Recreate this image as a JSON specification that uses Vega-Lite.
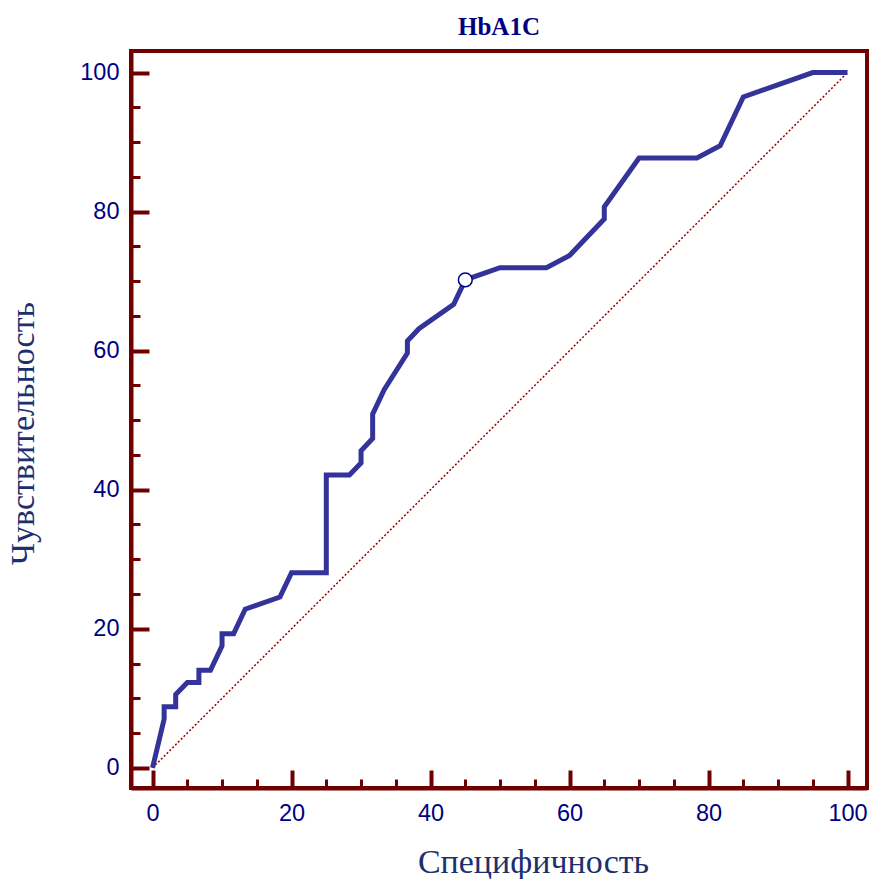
{
  "$schema": "https://vega.github.io/schema/vega-lite/v6.json",
  "width": 736,
  "height": 737,
  "autosize": {"type": "none"},
  "padding": {"left": 131, "top": 51, "right": 4, "bottom": 91},
  "background": "white",
  "title": {
    "text": "HbA1C",
    "font": "Liberation Serif",
    "fontSize": 25,
    "fontWeight": "bold",
    "color": "#000080",
    "anchor": "middle",
    "baseline": "alphabetic",
    "offset": -9
  },
  "config": {
    "view": {"stroke": "#700000", "strokeWidth": 4},
    "axis": {
      "grid": false,
      "domainColor": "#700000",
      "domainWidth": 4,
      "tickColor": "#700000",
      "labelFont": "Liberation Sans",
      "labelFontSize": 23.5,
      "labelColor": "#000080",
      "labelFlush": false,
      "labelOverlap": false,
      "titleFont": "Liberation Serif",
      "titleFontSize": 34,
      "titleFontWeight": "normal",
      "titleColor": "#1c2f6e"
    }
  },
  "datasets": {
    "diagonal": [
      {"specificity": 0, "sensitivity": 0},
      {"specificity": 100, "sensitivity": 100}
    ],
    "roc": [
      {"step": 0, "specificity": 0, "sensitivity": 0},
      {"step": 1, "specificity": 1.67, "sensitivity": 7.02},
      {"step": 2, "specificity": 1.67, "sensitivity": 8.77},
      {"step": 3, "specificity": 3.33, "sensitivity": 8.77},
      {"step": 4, "specificity": 3.33, "sensitivity": 10.53},
      {"step": 5, "specificity": 5, "sensitivity": 12.28},
      {"step": 6, "specificity": 6.67, "sensitivity": 12.28},
      {"step": 7, "specificity": 6.67, "sensitivity": 14.04},
      {"step": 8, "specificity": 8.33, "sensitivity": 14.04},
      {"step": 9, "specificity": 10, "sensitivity": 17.54},
      {"step": 10, "specificity": 10, "sensitivity": 19.3},
      {"step": 11, "specificity": 11.67, "sensitivity": 19.3},
      {"step": 12, "specificity": 13.33, "sensitivity": 22.81},
      {"step": 13, "specificity": 18.33, "sensitivity": 24.56},
      {"step": 14, "specificity": 20, "sensitivity": 28.07},
      {"step": 15, "specificity": 25, "sensitivity": 28.07},
      {"step": 16, "specificity": 25, "sensitivity": 42.11},
      {"step": 17, "specificity": 28.33, "sensitivity": 42.11},
      {"step": 18, "specificity": 30, "sensitivity": 43.86},
      {"step": 19, "specificity": 30, "sensitivity": 45.61},
      {"step": 20, "specificity": 31.67, "sensitivity": 47.37},
      {"step": 21, "specificity": 31.67, "sensitivity": 50.88},
      {"step": 22, "specificity": 33.33, "sensitivity": 54.39},
      {"step": 23, "specificity": 36.67, "sensitivity": 59.65},
      {"step": 24, "specificity": 36.67, "sensitivity": 61.4},
      {"step": 25, "specificity": 38.33, "sensitivity": 63.16},
      {"step": 26, "specificity": 43.33, "sensitivity": 66.67},
      {"step": 27, "specificity": 45, "sensitivity": 70.18},
      {"step": 28, "specificity": 50, "sensitivity": 71.93},
      {"step": 29, "specificity": 56.67, "sensitivity": 71.93},
      {"step": 30, "specificity": 60, "sensitivity": 73.68},
      {"step": 31, "specificity": 61.67, "sensitivity": 75.44},
      {"step": 32, "specificity": 65, "sensitivity": 78.95},
      {"step": 33, "specificity": 65, "sensitivity": 80.7},
      {"step": 34, "specificity": 70, "sensitivity": 87.72},
      {"step": 35, "specificity": 78.33, "sensitivity": 87.72},
      {"step": 36, "specificity": 81.67, "sensitivity": 89.47},
      {"step": 37, "specificity": 85, "sensitivity": 96.49},
      {"step": 38, "specificity": 95, "sensitivity": 100},
      {"step": 39, "specificity": 100, "sensitivity": 100}
    ],
    "cutoff": [
      {"specificity": 45, "sensitivity": 70.18}
    ]
  },
  "resolve": {"axis": {"x": "independent", "y": "independent"}},
  "layer": [
    {
      "data": {"name": "diagonal"},
      "mark": {"type": "line", "color": "#990000", "strokeWidth": 1.5, "strokeDash": [2, 2]},
      "encoding": {
        "x": {
          "field": "specificity",
          "type": "quantitative",
          "scale": {"domain": [-3.1, 102.8], "nice": false, "zero": false},
          "axis": {
            "orient": "bottom",
            "title": "Специфичность",
            "values": [0, 20, 40, 60, 80, 100],
            "tickSize": -18,
            "tickWidth": 4,
            "labelPadding": 31,
            "titleX": 402,
            "titleY": 84,
            "titleBaseline": "alphabetic",
            "titleAlign": "center"
          }
        },
        "y": {
          "field": "sensitivity",
          "type": "quantitative",
          "scale": {"domain": [-2.9, 103.1], "nice": false, "zero": false},
          "axis": {
            "orient": "left",
            "title": "Чувствительность",
            "values": [0, 20, 40, 60, 80, 100],
            "tickSize": -18,
            "tickWidth": 4,
            "labelPadding": 30,
            "titleX": -98,
            "titleY": 382,
            "titleAngle": -90,
            "titleBaseline": "alphabetic",
            "titleAlign": "center"
          }
        }
      }
    },
    {
      "data": {"name": "roc"},
      "mark": {"type": "line", "color": "#333399", "strokeWidth": 5},
      "encoding": {
        "x": {
          "field": "specificity",
          "type": "quantitative",
          "axis": {
            "orient": "bottom",
            "title": null,
            "values": [5, 10, 15, 25, 30, 35, 45, 50, 55, 65, 70, 75, 85, 90, 95],
            "tickSize": -9,
            "tickWidth": 3,
            "labels": false,
            "domain": false
          }
        },
        "y": {
          "field": "sensitivity",
          "type": "quantitative",
          "axis": {
            "orient": "left",
            "title": null,
            "values": [5, 10, 15, 25, 30, 35, 45, 50, 55, 65, 70, 75, 85, 90, 95],
            "tickSize": -9,
            "tickWidth": 3,
            "labels": false,
            "domain": false
          }
        },
        "order": {"field": "step", "type": "quantitative"}
      }
    },
    {
      "data": {"name": "cutoff"},
      "mark": {"type": "point", "shape": "circle", "filled": true, "fill": "white", "stroke": "#000080", "strokeWidth": 1.5, "size": 190, "opacity": 1},
      "encoding": {
        "x": {"field": "specificity", "type": "quantitative", "axis": null},
        "y": {"field": "sensitivity", "type": "quantitative", "axis": null}
      }
    }
  ]
}
